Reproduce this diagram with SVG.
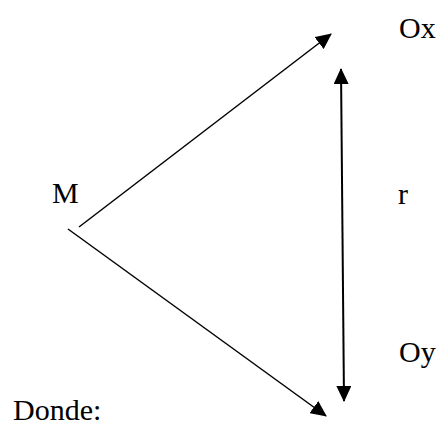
<svg xmlns="http://www.w3.org/2000/svg" width="441" height="427" viewBox="0 0 441 427">
  <style>
    .edge { stroke: #000; fill: none; stroke-linecap: butt; }
  </style>
  <defs>
    <marker id="ah" viewBox="0 0 16 15" refX="15" refY="7.5" markerWidth="16" markerHeight="15" markerUnits="userSpaceOnUse" orient="auto-start-reverse">
      <path d="M0,0 L16,7.5 L0,15 Z" fill="#000"/>
    </marker>
  </defs>
  <rect width="441" height="427" fill="#fff"/>
  <g id="connectors">
    <path class="edge" d="M79,227 L331,34" stroke-width="1.5" marker-end="url(#ah)"/>
    <path class="edge" d="M68,229 L326,416" stroke-width="1.5" marker-end="url(#ah)"/>
    <path class="edge" d="M341,69 L344,401" stroke-width="2" marker-start="url(#ah)" marker-end="url(#ah)"/>
  </g>
  <g font-family="Liberation Serif, Times New Roman, serif" font-size="30" fill="#000">
    <g id="node-M"><text x="52" y="203">M</text></g>
    <g id="node-Ox"><text x="399" y="38">Ox</text></g>
    <g id="node-Oy"><text x="399" y="362">Oy</text></g>
    <g id="label-r"><text x="398" y="204">r</text></g>
    <g id="label-donde"><text x="13" y="420">Donde:</text></g>
  </g>
</svg>
